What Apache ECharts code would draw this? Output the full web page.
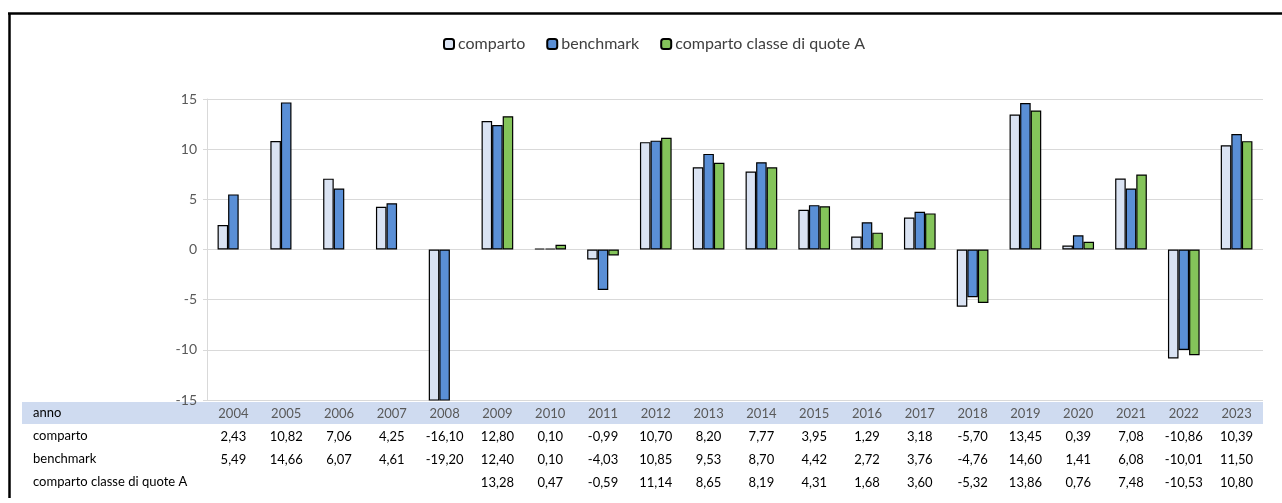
<!DOCTYPE html>
<html>
<head>
<meta charset="utf-8">
<script src="https://cdn.jsdelivr.net/npm/echarts@6/dist/echarts.min.js"></script>
<style>
html,body{margin:0;padding:0;background:#fff;}
#chart{width:1282px;height:503px;}
</style>
</head>
<body>
<div id="chart"></div>
<script>
const years = ['2004','2005','2006','2007','2008','2009','2010','2011','2012','2013','2014','2015','2016','2017','2018','2019','2020','2021','2022','2023'];
const comparto = [2.43,10.82,7.06,4.25,-16.10,12.80,0.10,-0.99,10.70,8.20,7.77,3.95,1.29,3.18,-5.70,13.45,0.39,7.08,-10.86,10.39];
const benchmark = [5.49,14.66,6.07,4.61,-19.20,12.40,0.10,-4.03,10.85,9.53,8.70,4.42,2.72,3.76,-4.76,14.60,1.41,6.08,-10.01,11.50];
const classeA = [null,null,null,null,null,13.28,0.47,-0.59,11.14,8.65,8.19,4.31,1.68,3.60,-5.32,13.86,0.76,7.48,-10.53,10.80];
const yTicks = [-15,-10,-5,0,5,10,15];
const rowLabels = ['anno','comparto','benchmark','comparto classe di quote A'];

const FONT = 'Lato';
function fmt(v){ return v === null || v === undefined ? ' ' : v.toFixed(2).replace('.', ','); }

const chart = echarts.init(document.getElementById('chart'));
const border = {borderColor:'#000', borderWidth:1.2};
chart.setOption({
  animation:false,
  textStyle:{fontFamily:FONT},
  legend:{
    top:31, left:438,
    itemWidth:10, itemHeight:10, itemGap:21,
    textStyle:{fontSize:16, color:'#404040', fontFamily:FONT, padding:[0,0,0,-1]},
    data:['comparto','benchmark','comparto classe di quote A']
  },
  grid:{left:207, right:19, top:99, bottom:103},
  xAxis:{
    type:'category', data:years,
    axisLine:{show:false, onZero:false},
    axisTick:{show:false},
    axisLabel:{
      margin:2, interval:0,
      formatter:function(val, idx){
        return '{y|' + val + '}\n{v|' + fmt(comparto[idx]) + '}\n{v|' + fmt(benchmark[idx]) + '}\n{v|' + fmt(classeA[idx]) + '}';
      },
      rich:{
        y:{fontSize:13, color:'#595959', lineHeight:23, fontFamily:FONT},
        v:{fontSize:13, color:'#000', lineHeight:23, fontFamily:FONT}
      }
    }
  },
  yAxis:{
    type:'value', min:yTicks[0], max:yTicks[yTicks.length-1], interval:5,
    axisLine:{show:true, lineStyle:{color:'#d9d9d9'}},
    axisTick:{show:true, length:4, lineStyle:{color:'#d9d9d9'}},
    axisLabel:{fontSize:14, color:'#595959', margin:10, fontFamily:FONT},
    splitLine:{lineStyle:{color:'#d9d9d9', width:1}}
  },
  graphic:[
    {type:'rect', z:-1, shape:{x:22, y:402, width:1241, height:22}, style:{fill:'#cfdbf0'}},
    {type:'line', shape:{x1:8, y1:13.5, x2:1282, y2:13.5}, style:{stroke:'#000', lineWidth:2.5}},
    {type:'line', shape:{x1:9.5, y1:13, x2:9.5, y2:498}, style:{stroke:'#000', lineWidth:2.5}},
    ...rowLabels.map((t,i)=>({type:'text', left:33, top:406 + i*23, style:{text:t, fontSize:13, fill:'#000', fontFamily:FONT}}))
  ],
  series:[
    {name:'comparto', type:'bar', data:comparto, barGap:'0%', barCategoryGap:'40%', clip:true,
     itemStyle:Object.assign({color:'#dae3f3'}, border)},
    {name:'benchmark', type:'bar', data:benchmark, clip:true,
     itemStyle:Object.assign({color:'#5a8fd6'}, border)},
    {name:'comparto classe di quote A', type:'bar', data:classeA, clip:true,
     itemStyle:Object.assign({color:'#84c45a'}, border)}
  ]
});
</script>
</body>
</html>
